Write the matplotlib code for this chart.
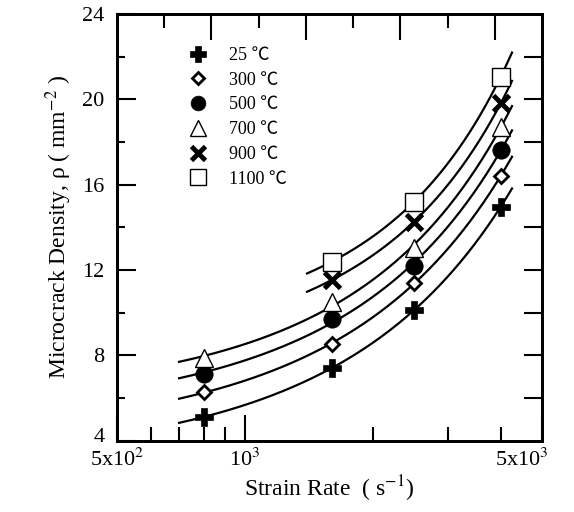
import numpy as np
import matplotlib
matplotlib.use("Agg")
import matplotlib.pyplot as plt
import matplotlib.transforms as mtransforms
from matplotlib.ticker import FixedLocator, NullFormatter

plt.rcParams['font.family'] = ['Liberation Serif', 'Noto Sans CJK SC', 'DejaVu Serif']
plt.rcParams['mathtext.fontset'] = 'stix'

# ---- data ----
temps = ['25 ℃', '300 ℃', '500 ℃', '700 ℃', '900 ℃', '1100 ℃']
rate_4 = [800, 1600, 2500, 4000]
rate_3 = [1600, 2500, 4000]
rho_25 = [5.12, 7.39, 10.13, 14.97]
rho_300 = [6.27, 8.52, 11.40, 16.41]
rho_500 = [7.13, 9.70, 12.21, 17.63]
rho_700 = [7.88, 10.52, 13.02, 18.72]
rho_900 = [11.53, 14.27, 19.82]
rho_1100 = [12.39, 15.20, 21.07]
fit_start = [700, 700, 700, 700, 1400, 1400]
fit_end = 4250

series_x = [rate_4, rate_4, rate_4, rate_4, rate_3, rate_3]
series_y = [rho_25, rho_300, rho_500, rho_700, rho_900, rho_1100]

styles = [
    dict(marker='P', ms=13, mfc='black', mec='black', mew=0.5),
    dict(marker='D', ms=7.5, mfc='white', mec='black', mew=2.0),
    dict(marker='o', ms=12.5, mfc='black', mec='black', mew=0.5),
    dict(marker='^', ms=13, mfc='white', mec='black', mew=1.0),
    dict(marker='x', ms=12, mfc='black', mec='black', mew=3.5),
    dict(marker='s', ms=13, mfc='white', mec='black', mew=1.0),
]

fig = plt.figure(figsize=(5.74, 5.12), dpi=100)
ax = fig.add_axes([117/574, 1-440.7/512, 425/574, 426.7/512])

for lab, xs, ys, st, x0 in zip(temps, series_x, series_y, styles, fit_start):
    coef = np.polyfit(xs, ys, 2)
    xf = np.geomspace(x0, fit_end, 200)
    ax.plot(xf, np.polyval(coef, xf), color='black', lw=1.6, zorder=2)
    ax.plot(xs, ys, linestyle='none', label=lab, zorder=3, **st)

ax.set_xscale('log')
ax.set_xlim(500, 5000)
ax.set_ylim(4, 24)

ax.xaxis.set_major_locator(FixedLocator([500, 1000, 5000]))
ax.set_xticklabels(['5x10$^{2}$', '10$^{3}$', '5x10$^{3}$'])
ax.xaxis.set_minor_locator(FixedLocator([600, 700, 800, 900, 2000, 3000, 4000]))
ax.xaxis.set_minor_formatter(NullFormatter())

ax.yaxis.set_major_locator(FixedLocator([4, 8, 12, 16, 20, 24]))
ax.yaxis.set_minor_locator(FixedLocator([6, 10, 14, 18, 22]))

ax.tick_params(axis='x', which='major', direction='in', length=19, width=1.5,
               labelsize=16, pad=6, top=False)
ax.tick_params(axis='x', which='minor', direction='in', length=10, width=1.5, top=False)
ax.tick_params(axis='y', which='major', direction='in', length=14, width=1.5,
               labelsize=16, pad=9, right=False)
ax.tick_params(axis='y', which='minor', direction='in', length=6, width=1.5, right=False)

for sp in ax.spines.values():
    sp.set_linewidth(2)

# lift the bottom "4" label a little, as in the reference
lbl4 = ax.get_yticklabels()[0]
lbl4.set_transform(lbl4.get_transform() + mtransforms.ScaledTranslation(0, 6/100, fig.dpi_scale_trans))
# the last x label sits left of its tick in the reference
lbl5k = ax.get_xticklabels()[-1]
lbl5k.set_transform(lbl5k.get_transform() + mtransforms.ScaledTranslation(-20/100, 0, fig.dpi_scale_trans))

# top axis: evenly spaced ticks
top = ax.twiny()
top.set_xlim(0, 9)
top.xaxis.set_major_locator(FixedLocator([2, 4, 6, 8]))
top.xaxis.set_minor_locator(FixedLocator([1, 3, 5, 7]))
top.tick_params(axis='x', which='major', direction='in', length=19, width=1.5,
                labeltop=False, bottom=False)
top.tick_params(axis='x', which='minor', direction='in', length=10, width=1.5, bottom=False)
for sp in top.spines.values():
    sp.set_linewidth(2)

# right axis: uniform ticks
right = ax.secondary_yaxis('right')
right.yaxis.set_major_locator(FixedLocator(list(range(6, 23, 2))))
right.tick_params(axis='y', which='major', direction='in', length=13, width=1.5,
                  labelright=False)
right.spines['right'].set_linewidth(2)

ax.set_xlabel('Strain Rate  ( s$^{-1}$)', fontsize=17, labelpad=2)
ax.set_ylabel('Microcrack Density, ρ ( mm$^{-2}$ )', fontsize=17, labelpad=6)

leg = ax.legend(loc='upper left', bbox_to_anchor=(0.153, 0.94), frameon=False,
                handlelength=1.0, handletextpad=1.2, labelspacing=0.43,
                borderaxespad=0, markerscale=0.85, numpoints=1,
                prop={'family': ['Liberation Serif', 'Noto Sans CJK SC', 'DejaVu Serif'], 'size': 13})

fig.savefig('out.png', dpi=100)
